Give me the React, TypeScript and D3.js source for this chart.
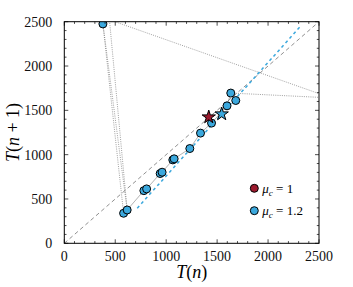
import * as d3 from 'd3'

// return map T(n) -> T(n+1)
const blueX = [582, 617, 781, 808, 941, 960, 1065, 1078, 1232, 1337, 1445, 1597, 1634, 1683, 379]
const blueY = [339, 376, 594, 614, 787, 802, 941, 953, 1069, 1243, 1356, 1551, 1695, 1611, 2475]

// fixed points (stars)
const redStar = [1418, 1424]
const blueStar = [1545, 1458]

// legend
const legendLabels = ['1', '1.2']
const legendColors = ['#9c1a2e', '#3ba8dd']

// dotted jumps of the trajectory (some ends lie outside the axes)
const jumps = [
  [[379, 2475], [582, 339]],
  [[379, 2475], [617, 376]],
  [[440, 2560], [617, 376]],
  [[300, 2580], [2620, 1640]],
  [[2620, 1640], [1634, 1695]],
]

// linear fit (blue dashed)
const fitX = [716, 2327]
const fitY = [396, 2459]

const majorTicks = [0, 500, 1000, 1500, 2000, 2500]
const minorTicks = d3.range(0, 2501, 100)

const W = 353
const H = 287
const L = 64.3
const R = 319
const T = 21.7
const B = 243.3

export default function App() {
  const x = d3.scaleLinear().domain([0, 2500]).range([L, R])
  const y = d3.scaleLinear().domain([0, 2500]).range([B, T])
  const line = d3.line<number[]>().x((d) => x(d[0])).y((d) => y(d[1]))

  const pts = blueX.map((v, i) => [v, blueY[i]])
  // chain through the points along the line (all but the jump to the top)
  const chain = pts.slice(0, 14).slice().sort((a, b) => a[0] - b[0])

  const star = d3.symbol().type(d3.symbolStar).size(55)()
  const font = 'Liberation Serif, DejaVu Serif, serif'

  return (
    <svg width={W} height={H} style={{ position: 'absolute', left: 0, top: 0 }}>
      <rect width={W} height={H} fill="white" />
      <defs>
        <clipPath id="plot">
          <rect x={L} y={T} width={R - L} height={B - T} />
        </clipPath>
      </defs>

      <g clipPath="url(#plot)">
        {/* y = x */}
        <path d={line([[0, 0], [2500, 2500]]) || ''} stroke="#444" strokeWidth={0.6} strokeDasharray="4,3" fill="none" />
        {jumps.map((s, i) => (
          <path key={i} d={line(s) || ''} stroke="#777" strokeWidth={0.7} strokeDasharray="1,1.2" fill="none" />
        ))}
        <path d={line([[fitX[0], fitY[0]], [fitX[1], fitY[1]]]) || ''} stroke="#3ba8dd" strokeWidth={1.5} strokeDasharray="3,3" fill="none" />
        <path d={line(chain) || ''} stroke="#666" strokeWidth={0.5} fill="none" />
        {pts.map((p, i) => (
          <circle key={i} cx={x(p[0])} cy={y(p[1])} r={4} fill="#3ba8dd" stroke="black" strokeWidth={1} />
        ))}
        <path d={star || ''} transform={`translate(${x(redStar[0])},${y(redStar[1])})`} fill="#9c1a2e" stroke="black" strokeWidth={1} />
        <path d={star || ''} transform={`translate(${x(blueStar[0])},${y(blueStar[1])})`} fill="#3ba8dd" stroke="black" strokeWidth={1} />
      </g>

      {/* ticks on all four sides, pointing inward */}
      <g stroke="black" strokeWidth={0.7}>
        {minorTicks.map((t) => {
          const len = t % 500 === 0 ? 4 : 2.2
          return (
            <g key={t}>
              <line x1={x(t)} x2={x(t)} y1={B} y2={B - len} />
              <line x1={x(t)} x2={x(t)} y1={T} y2={T + len} />
              <line x1={L} x2={L + len} y1={y(t)} y2={y(t)} />
              <line x1={R} x2={R - len} y1={y(t)} y2={y(t)} />
            </g>
          )
        })}
      </g>
      <rect x={L} y={T} width={R - L} height={B - T} fill="none" stroke="black" strokeWidth={1} />

      <g fontFamily={font} fontSize={14} fill="#111">
        {majorTicks.map((t) => (
          <text key={'x' + t} x={x(t)} y={B + 18} textAnchor="middle">{t}</text>
        ))}
        {majorTicks.map((t) => (
          <text key={'y' + t} x={L - 12} y={y(t) + 5} textAnchor="end">{t}</text>
        ))}
      </g>

      <text x={(L + R) / 2} y={278} textAnchor="middle" fontFamily={font} fontSize={18}>
        <tspan fontStyle="italic">T</tspan>(<tspan fontStyle="italic">n</tspan>)
      </text>
      <text transform={`translate(19,${(T + B) / 2}) rotate(-90)`} textAnchor="middle" fontFamily={font} fontSize={18}>
        <tspan fontStyle="italic">T</tspan>(<tspan fontStyle="italic">n</tspan> + 1)
      </text>

      {legendLabels.map((lab, i) => (
        <g key={lab} transform={`translate(254.3,${188.3 + i * 22.4})`}>
          <circle r={4} fill={legendColors[i]} stroke="black" strokeWidth={1} />
          <text x={8} y={4.5} fontFamily={font} fontSize={13}>
            <tspan fontStyle="italic">μ</tspan>
            <tspan fontStyle="italic" fontSize={9} dy={3}>c</tspan>
            <tspan dy={-3}> = {lab}</tspan>
          </text>
        </g>
      ))}
    </svg>
  )
}
